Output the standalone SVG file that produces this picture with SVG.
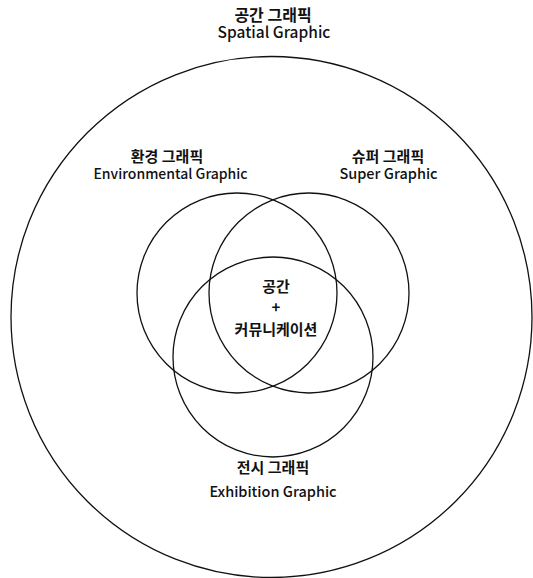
<svg xmlns="http://www.w3.org/2000/svg" width="533" height="578" viewBox="0 0 533 578">
<style>
.c{fill:none;stroke:#111;stroke-width:1.3}
.ko{font-family:"Noto Sans CJK KR","Noto Sans",sans-serif;font-size:15px;font-weight:700;fill:#111;text-anchor:middle}
.en{font-family:"Noto Sans CJK KR","Noto Sans",sans-serif;font-size:14.5px;font-weight:500;fill:#111;text-anchor:middle}
</style>
<rect width="533" height="578" fill="#fff"/>
<g id="spatial">
<circle class="c" cx="271.5" cy="317" r="260.5"/>
<text class="ko" x="273" y="21" style="font-size:16px">공간 그래픽</text>
<text class="en" x="274" y="38" style="font-size:15.5px">Spatial Graphic</text>
</g>
<g id="environmental">
<circle class="c" cx="237" cy="293" r="100"/>
<text class="ko" x="167" y="162">환경 그래픽</text>
<text class="en" x="170.5" y="179" style="font-size:14px">Environmental Graphic</text>
</g>
<g id="super">
<circle class="c" cx="309" cy="293" r="100"/>
<text class="ko" x="388" y="162">슈퍼 그래픽</text>
<text class="en" x="388.5" y="179">Super Graphic</text>
</g>
<g id="exhibition">
<circle class="c" cx="273" cy="357" r="100"/>
<text class="ko" x="273" y="473">전시 그래픽</text>
<text class="en" x="273" y="497">Exhibition Graphic</text>
</g>
<g id="center">
<text class="ko" x="276" y="292">공간</text>
<text class="ko" x="276" y="313">+</text>
<text class="ko" x="276" y="335">커뮤니케이션</text>
</g>
<g id="connectors"/>
</svg>
